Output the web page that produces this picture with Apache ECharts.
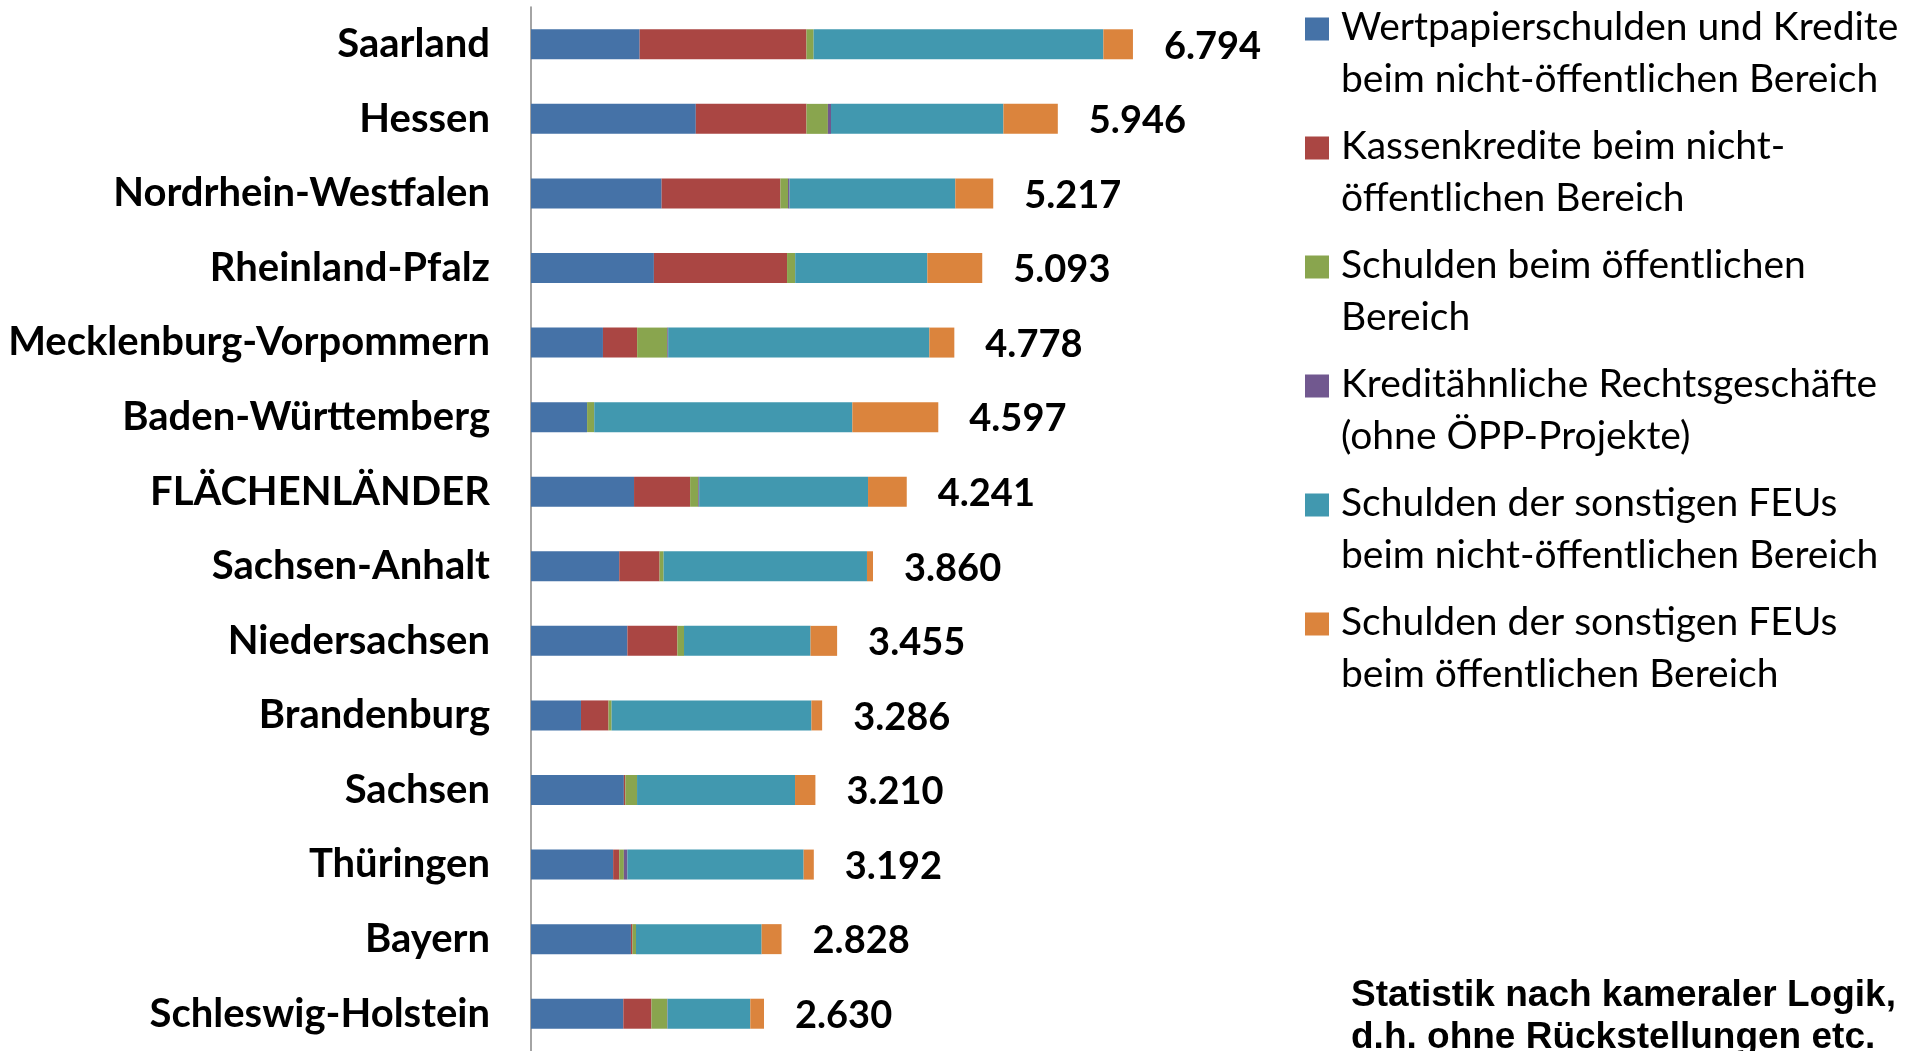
<!DOCTYPE html>
<html>
<head>
<meta charset="utf-8">
<title>Schulden je Einwohner</title>
<script src="https://cdn.jsdelivr.net/npm/echarts/dist/echarts.min.js"></script>
<style>
    html, body { margin: 0; padding: 0; background: #fff; }
    #myChart { width: 1907px; height: 1051px; }
</style>
</head>
<body>
<div id="myChart"></div>
<script>
//Kategorien (von oben nach unten)
var laender = ['Saarland', 'Hessen', 'Nordrhein-Westfalen', 'Rheinland-Pfalz', 'Mecklenburg-Vorpommern',
    'Baden-Württemberg', 'FLÄCHENLÄNDER', 'Sachsen-Anhalt', 'Niedersachsen', 'Brandenburg',
    'Sachsen', 'Thüringen', 'Bayern', 'Schleswig-Holstein'];

//Werte je Einwohner
var wertpapierKredite = [1226, 1860, 1474, 1387, 812, 633, 1163, 996, 1088, 564, 1048, 927, 1128, 1042];
var kassenkredite = [1883, 1249, 1341, 1503, 386, 0, 633, 455, 564, 311, 17, 69, 17, 317];
var schuldenOeffentlich = [81, 242, 86, 92, 340, 81, 92, 46, 75, 35, 132, 52, 40, 178];
var kreditaehnlich = [0, 35, 17, 0, 10, 0, 10, 0, 0, 0, 0, 40, 0, 5];
var feuNichtOeffentlich = [3270, 1946, 1871, 1491, 2948, 2913, 1906, 2295, 1428, 2255, 1783, 1989, 1418, 933];
var feuOeffentlich = [334, 614, 428, 620, 282, 970, 437, 68, 300, 121, 230, 115, 225, 155];

//Summen (Beschriftung)
var summen = [6794, 5946, 5217, 5093, 4778, 4597, 4241, 3860, 3455, 3286, 3210, 3192, 2828, 2630];

var seriesNamen = [
    'Wertpapierschulden und Kredite\nbeim nicht-öffentlichen Bereich',
    'Kassenkredite beim nicht-\nöffentlichen Bereich',
    'Schulden beim öffentlichen\nBereich',
    'Kreditähnliche Rechtsgeschäfte\n(ohne ÖPP-Projekte)',
    'Schulden der sonstigen FEUs\nbeim nicht-öffentlichen Bereich',
    'Schulden der sonstigen FEUs\nbeim öffentlichen Bereich'
];
var farben = ['#4572A7', '#AA4643', '#89A54E', '#71588F', '#4198AF', '#DB843D'];

//Tausenderpunkt
function formatDe(v) {
    return String(v).replace(/\B(?=(\d{3})+(?!\d))/g, '.');
}

function makeSeries(idx, data) {
    var s = {
        name: seriesNamen[idx],
        type: 'bar',
        stack: 'gesamt',
        barWidth: 30,
        data: data,
        itemStyle: { color: farben[idx] }
    };
    if (idx == 5) {
        s.label = {
            show: true,
            position: 'right',
            distance: 31,
            offset: [0, 2],
            fontFamily: 'Lato',
            fontWeight: 'bold',
            fontSize: 38,
            color: '#000',
            formatter: function (p) {
                return formatDe(summen[p.dataIndex]);
            }
        };
    }
    return s;
}

var myChart = echarts.init(document.getElementById('myChart'));
var option = {
    animation: false,
    backgroundColor: '#fff',
    grid: {
        left: 531,
        top: 7,
        width: 886,
        height: 1046
    },
    legend: {
        orient: 'vertical',
        left: 1305,
        top: 2,
        padding: 0,
        itemGap: 16,
        itemWidth: 31,
        itemHeight: 103,
        //Quadrat an der ersten Zeile ausrichten
        icon: 'path://M0,0h0.01v0.01h-0.01z M0,15.5h24v23h-24z M31,103h0.01v0.01h-0.01z',
        selectedMode: false,
        textStyle: {
            fontFamily: 'Lato',
            fontSize: 39,
            lineHeight: 51.5,
            color: '#000'
        },
        data: seriesNamen
    },
    xAxis: {
        type: 'value',
        min: 0,
        max: 10000,
        show: false
    },
    yAxis: {
        type: 'category',
        inverse: true,
        data: laender,
        axisLine: {
            lineStyle: { color: '#868686', width: 1.5 }
        },
        axisTick: {
            length: 13,
            lineStyle: { color: '#868686', width: 1.5 }
        },
        axisLabel: {
            margin: 41,
            fontFamily: 'Lato',
            fontWeight: 'bold',
            fontSize: 40,
            color: '#000'
        }
    },
    graphic: [{
        type: 'text',
        left: 1351,
        top: 975,
        style: {
            text: 'Statistik nach kameraler Logik,\nd.h. ohne Rückstellungen etc.',
            font: 'bold 37px "Liberation Sans", Arial, sans-serif',
            lineHeight: 42,
            fill: '#000'
        }
    }],
    series: [
        makeSeries(0, wertpapierKredite),
        makeSeries(1, kassenkredite),
        makeSeries(2, schuldenOeffentlich),
        makeSeries(3, kreditaehnlich),
        makeSeries(4, feuNichtOeffentlich),
        makeSeries(5, feuOeffentlich)
    ]
};
myChart.setOption(option);
</script>
</body>
</html>
